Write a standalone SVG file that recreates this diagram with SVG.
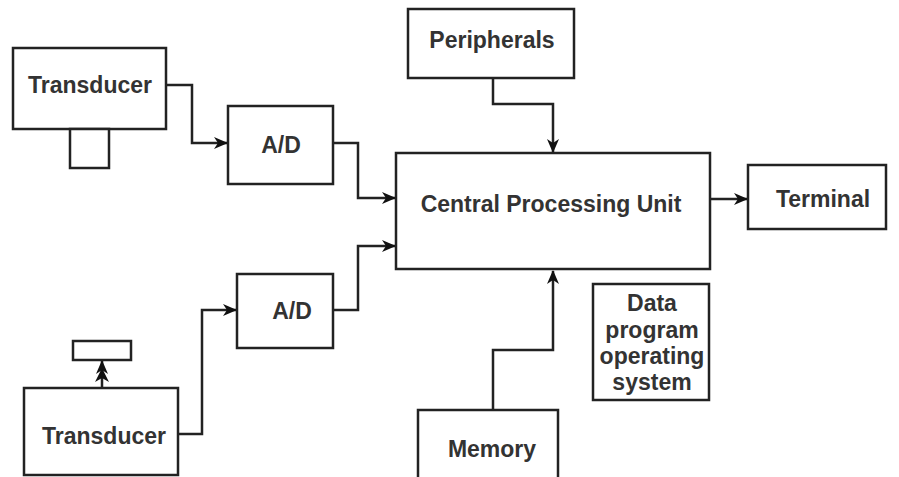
<svg xmlns="http://www.w3.org/2000/svg" width="899" height="477" viewBox="0 0 899 477">
<style>
.box{fill:#fff;stroke:#222;stroke-width:2.5}
.lbl{font-family:"Liberation Sans",Arial,sans-serif;font-size:23px;font-weight:bold;fill:#333;text-anchor:middle}
.con{fill:none;stroke:#222;stroke-width:2.5}
</style>
<defs>
<marker id="arr" markerUnits="userSpaceOnUse" markerWidth="14" markerHeight="12" refX="13" refY="6" orient="auto">
<path d="M0,0 L14,6 L0,12 L4,6 z" fill="#111"/>
</marker>
</defs>
<rect width="899" height="477" fill="#fff"/>
<g id="connectors">
<path class="con" d="M166,85 H192 V143 H227" marker-end="url(#arr)"/>
<path class="con" d="M333,143 H358 V198 H395" marker-end="url(#arr)"/>
<path class="con" d="M333,310 H358 V246 H395" marker-end="url(#arr)"/>
<path class="con" d="M178,434 H202 V310 H236" marker-end="url(#arr)"/>
<path class="con" d="M493,78 V104 H553 V152" marker-end="url(#arr)"/>
<path class="con" d="M710,199 H747" marker-end="url(#arr)"/>
<path class="con" d="M493,410 V350 H553 V271" marker-end="url(#arr)"/>
<path class="con" d="M102,388 V361" marker-end="url(#arr)"/>
<path d="M95,382 L102,368 L109,382 L102,378 z" fill="#111"/>
</g>
<g id="transducer1">
<rect class="box" x="13" y="48" width="153" height="81"/>
<rect class="box" x="70" y="129" width="39" height="39"/>
<text class="lbl" x="90" y="93">Transducer</text>
</g>
<g id="ad1">
<rect class="box" x="228" y="106" width="105" height="78"/>
<text class="lbl" x="281" y="153">A/D</text>
</g>
<g id="transducer2">
<rect class="box" x="24" y="388" width="154" height="87"/>
<rect class="box" x="73" y="341" width="58" height="19"/>
<text class="lbl" x="104" y="444">Transducer</text>
</g>
<g id="ad2">
<rect class="box" x="237" y="274" width="96" height="74"/>
<text class="lbl" x="292" y="319">A/D</text>
</g>
<g id="peripherals">
<rect class="box" x="408" y="9" width="166" height="69"/>
<text class="lbl" x="492" y="48">Peripherals</text>
</g>
<g id="cpu">
<rect class="box" x="396" y="153" width="314" height="116"/>
<text class="lbl" x="551" y="212">Central Processing Unit</text>
</g>
<g id="terminal">
<rect class="box" x="748" y="165" width="138" height="64"/>
<text class="lbl" x="823" y="207">Terminal</text>
</g>
<g id="data">
<rect class="box" x="593" y="284" width="116" height="116"/>
<text class="lbl" x="652" y="311">Data</text>
<text class="lbl" x="652" y="338">program</text>
<text class="lbl" x="652" y="364">operating</text>
<text class="lbl" x="652" y="390">system</text>
</g>
<g id="memory">
<rect class="box" x="418" y="410" width="140" height="80"/>
<text class="lbl" x="492" y="457">Memory</text>
</g>
</svg>
